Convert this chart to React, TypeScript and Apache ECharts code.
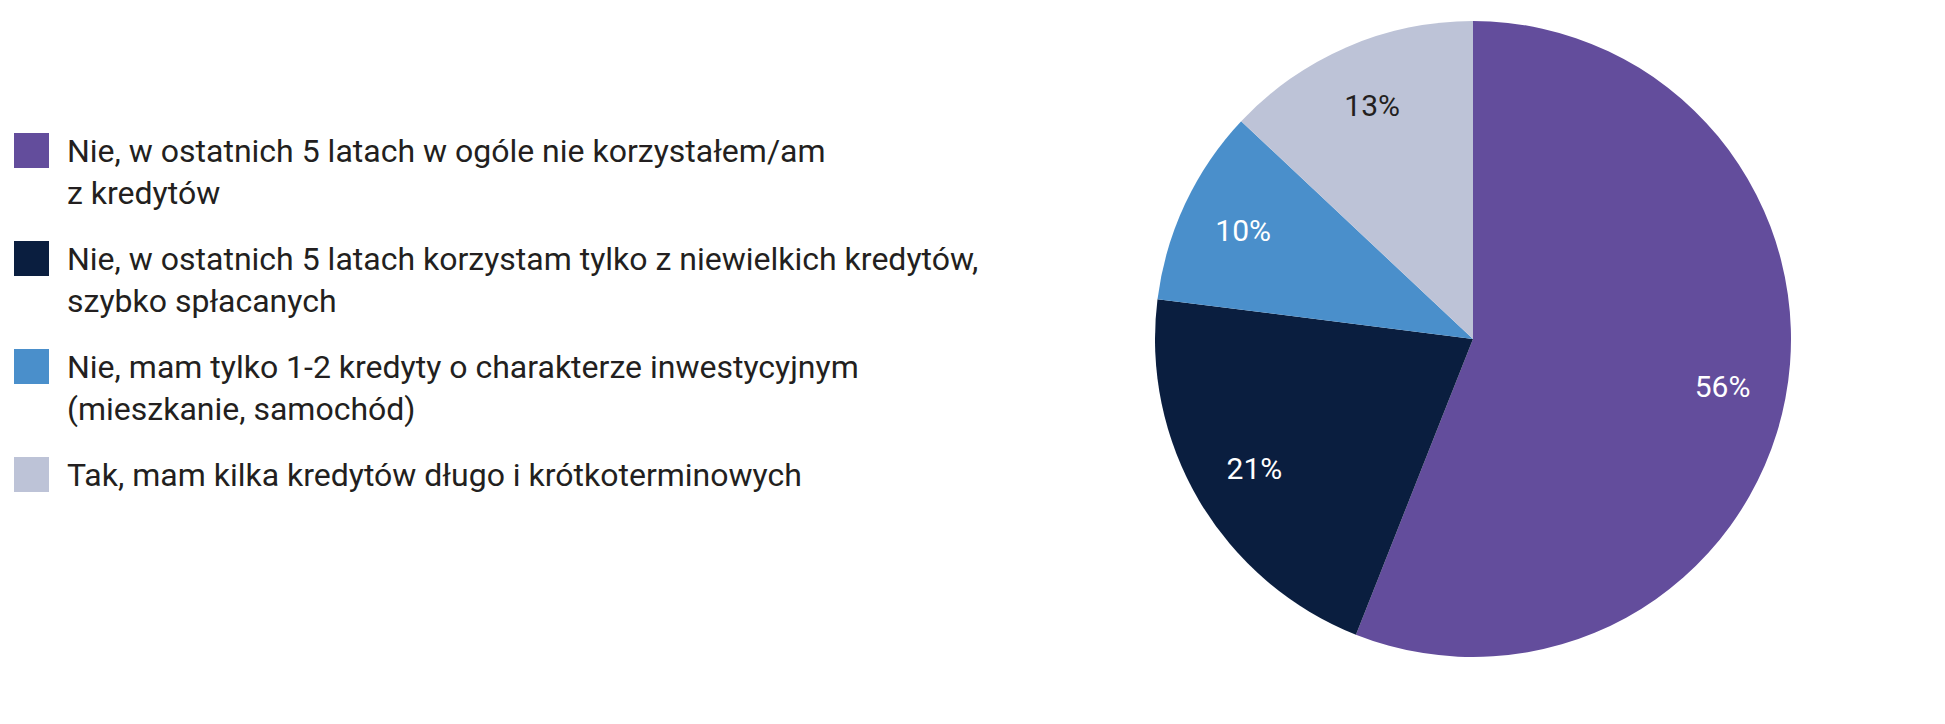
import { useEffect, useRef } from "react";
import * as echarts from "echarts";

const categories = [
  "Nie, w ostatnich 5 latach w ogóle nie korzystałem/am\nz kredytów",
  "Nie, w ostatnich 5 latach korzystam tylko z niewielkich kredytów,\nszybko spłacanych",
  "Nie, mam tylko 1-2 kredyty o charakterze inwestycyjnym\n(mieszkanie, samochód)",
  "Tak, mam kilka kredytów długo i krótkoterminowych",
];
const shares = [56, 21, 10, 13];
const sliceColors = ["#634d9c", "#0a1e3f", "#4a8fcb", "#bdc3d7"];
const labelColors = ["#ffffff", "#ffffff", "#ffffff", "#231f20"];

const App = () => {
  const chartRef = useRef(null);

  useEffect(() => {
    document.body.style.margin = "0";
    const chart = echarts.init(chartRef.current, null, { renderer: "svg" });

    const pieData = categories.map((name, i) => ({
      name,
      value: shares[i],
      itemStyle: { color: sliceColors[i] },
    }));

    // a transparent, larger pie only carries the percent labels,
    // so they sit at ~80% of the visible radius like in the original
    const labelData = categories.map((name, i) => ({
      name,
      value: shares[i],
      itemStyle: { color: "rgba(0,0,0,0)" },
      label: { color: labelColors[i] },
    }));

    const options = {
      animation: false,
      textStyle: { fontFamily: "Roboto" },
      legend: {
        orient: "vertical",
        left: 14,
        top: 87.5,
        padding: 0,
        itemWidth: 48,
        itemHeight: 35,
        itemGap: -18,
        // square + an empty stroke on the right, which widens the gap before the text
        icon: "path://M0,0H35V35H0Z M48,0L48,35",
        selectedMode: false,
        data: categories,
        // pad every entry to three lines so the first line is centred on the square
        formatter: (name) => "\n" + name + (name.includes("\n") ? "" : "\n"),
        textStyle: {
          fontFamily: "Roboto",
          fontSize: 32,
          lineHeight: 42,
          color: "#231f20",
        },
      },
      series: [
        {
          type: "pie",
          center: [1473, 339],
          radius: [0, 318],
          startAngle: 90,
          silent: true,
          itemStyle: { borderWidth: 0 },
          label: { show: false },
          labelLine: { show: false },
          data: pieData,
        },
        {
          type: "pie",
          center: [1473, 339],
          radius: [0, 502],
          startAngle: 90,
          silent: true,
          itemStyle: { borderWidth: 0 },
          label: {
            show: true,
            position: "inside",
            formatter: "{c}%",
            fontFamily: "Roboto",
            fontSize: 30,
          },
          labelLine: { show: false },
          data: labelData,
        },
      ],
    };

    chart.setOption(options);

    const handleResize = () => chart.resize();
    window.addEventListener("resize", handleResize);

    return () => {
      window.removeEventListener("resize", handleResize);
      chart.dispose();
    };
  }, []);

  return (
    <div
      ref={chartRef}
      style={{ width: "1945px", height: "724px", background: "#ffffff" }}
    />
  );
};

export default App;
